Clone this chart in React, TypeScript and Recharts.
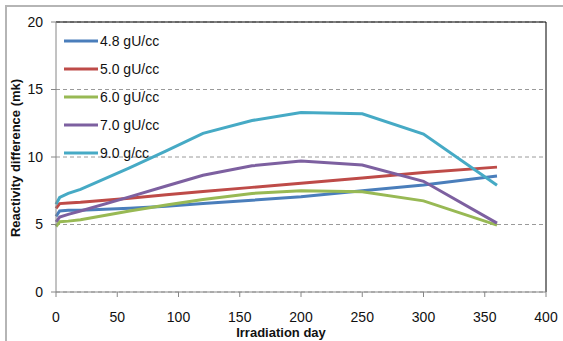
import { LineChart, Line, XAxis, YAxis, CartesianGrid, Legend, ReferenceLine } from 'recharts'

// irradiation days sampled for every series
const days = [0, 3, 10, 20, 60, 90, 120, 160, 200, 250, 300, 360]

const u48 = [5.6, 6.0, 6.05, 6.05, 6.2, 6.35, 6.55, 6.8, 7.05, 7.5, 7.93, 8.6]
const u50 = [6.2, 6.55, 6.6, 6.65, 6.95, 7.2, 7.45, 7.75, 8.05, 8.45, 8.85, 9.25]
const u60 = [4.85, 5.2, 5.25, 5.35, 6.0, 6.45, 6.85, 7.3, 7.5, 7.43, 6.75, 4.95]
const u70 = [5.2, 5.55, 5.75, 6.0, 7.05, 7.85, 8.65, 9.35, 9.7, 9.4, 8.2, 5.1]
const u90 = [6.5, 7.0, 7.3, 7.6, 9.2, 10.45, 11.75, 12.7, 13.3, 13.2, 11.7, 7.9]

const xTicks = [0, 50, 100, 150, 200, 250, 300, 350, 400]
const yTicks = [0, 5, 10, 15, 20]

const series = [
  { key: 'u48', name: '4.8 gU/cc', color: '#4a7ebb' },
  { key: 'u50', name: '5.0 gU/cc', color: '#be4b48' },
  { key: 'u60', name: '6.0 gU/cc', color: '#98b954' },
  { key: 'u70', name: '7.0 gU/cc', color: '#7d60a0' },
  { key: 'u90', name: '9.0 g/cc', color: '#46aac5' },
]

const chartData = days.map((day, i) => ({
  day,
  u48: u48[i],
  u50: u50[i],
  u60: u60[i],
  u70: u70[i],
  u90: u90[i],
}))

const font = '"Liberation Sans", Arial, sans-serif'

const LegendBox = () => (
  <div style={{ fontFamily: font, fontSize: 14, color: '#111' }}>
    {series.map(s => (
      <div key={s.key} style={{ height: 28, display: 'flex', alignItems: 'center' }}>
        <svg width={34} height={4} style={{ marginRight: 2 }}>
          <line x1={0} y1={2} x2={34} y2={2} stroke={s.color} strokeWidth={3} />
        </svg>
        <span>{s.name}</span>
      </div>
    ))}
  </div>
)

export default function App() {
  return (
    <div style={{ position: 'absolute', left: 0, top: 0, width: 563, height: 341, overflow: 'hidden', background: '#fff' }}>
      <div style={{ position: 'absolute', left: 5, top: 5, width: 600, height: 400, border: '2px solid #b5b5b5' }} />
      <div style={{ position: 'absolute', left: 0, top: 0 }}>
        <LineChart width={563} height={341} data={chartData} margin={{ top: 22, right: 17, left: 0, bottom: 3 }}>
          <CartesianGrid horizontal vertical={false} stroke="#9a9a9a" strokeDasharray="4 3" />
          <XAxis
            dataKey="day"
            type="number"
            domain={[0, 400]}
            ticks={xTicks}
            height={46}
            stroke="#868686"
            tickSize={5}
            tickMargin={15}
            tick={{ fill: '#111', fontSize: 14, fontFamily: font }}
            label={{
              content: () => (
                <text x={281} y={337} textAnchor="middle" fontFamily={font} fontSize={13} fontWeight="bold" fill="#111">
                  Irradiation day
                </text>
              ),
            }}
          />
          <YAxis
            type="number"
            domain={[0, 20]}
            ticks={yTicks}
            width={56}
            stroke="#868686"
            tickSize={5}
            tickMargin={8}
            tick={{ fill: '#111', fontSize: 14, fontFamily: font }}
            label={{
              content: () => (
                <text
                  x={20}
                  y={158}
                  transform="rotate(-90, 20, 158)"
                  textAnchor="middle"
                  fontFamily={font}
                  fontSize={13}
                  fontWeight="bold"
                  fill="#111"
                >
                  Reactivity difference (mk)
                </text>
              ),
            }}
          />
          <ReferenceLine y={20} stroke="#000" strokeWidth={1} />
          <ReferenceLine x={400} stroke="#000" strokeWidth={1} />
          <Legend
            layout="vertical"
            align="center"
            verticalAlign="middle"
            wrapperStyle={{ left: 64, top: 27, width: 130 }}
            content={<LegendBox />}
          />
          {series.map(s => (
            <Line
              key={s.key}
              type="linear"
              dataKey={s.key}
              name={s.name}
              stroke={s.color}
              strokeWidth={3}
              dot={false}
              activeDot={false}
              isAnimationActive={false}
            />
          ))}
        </LineChart>
      </div>
    </div>
  )
}
